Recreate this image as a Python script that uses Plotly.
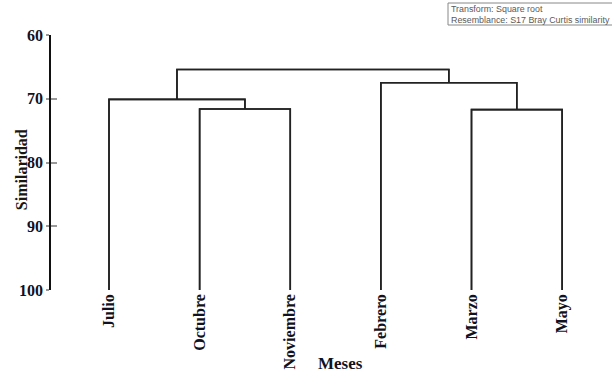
import plotly.graph_objects as go

# Leaves of the dendrogram, in display order
meses = ["Julio", "Octubre", "Noviembre", "Febrero", "Marzo", "Mayo"]

# Agglomeration steps: (left cluster, right cluster, similarity level)
pares_izq = ["Octubre", "Julio", "Marzo", "Febrero", "G2"]
pares_der = ["Noviembre", "G1", "Mayo", "G3", "G4"]
similitud = [71.6, 70.1, 71.7, 67.5, 65.4]
nombres_grupo = ["G1", "G2", "G3", "G4", "G5"]

y_ticks = [60, 70, 80, 90, 100]
base = 100  # leaves hang down to 100 % similarity

nota = ["Transform: Square root", "Resemblance: S17 Bray Curtis similarity"]

FONT = "Liberation Serif"
TXT = "#111122"

# page geometry (px)
W, H = 612, 374
ML, MR, MT, MB = 51, 10, 35, 84
PW, PH = W - ML - MR, H - MT - MB


def px_x(p):
    return (p - ML) / PW


def px_y(p):
    return (H - MB - p) / PH


# position and height of every node
pos = {m: float(i) for i, m in enumerate(meses)}
alt = {m: base for m in meses}

xs, ys = [], []
for a, b, s, g in zip(pares_izq, pares_der, similitud, nombres_grupo):
    xa, xb = pos[a], pos[b]
    xs += [xa, xa, xb, xb, None]
    ys += [alt[a], s, s, alt[b], None]
    pos[g] = (xa + xb) / 2
    alt[g] = s

fig = go.Figure()
for eje in ("y", "y2"):
    fig.add_trace(go.Scatter(
        x=xs, y=ys, mode="lines", yaxis=eje,
        line=dict(color="#222222", width=1.6),
        hoverinfo="skip", showlegend=False,
    ))

fig.update_layout(
    width=W, height=H,
    margin=dict(l=ML, r=MR, t=MT, b=MB),
    plot_bgcolor="white", paper_bgcolor="white",
    xaxis=dict(
        range=[-0.64, 5.44], automargin=False,
        tickvals=list(range(len(meses))), ticktext=meses,
        tickangle=-90, ticks="", showgrid=False, zeroline=False,
        showline=False,
        tickfont=dict(family=FONT, size=16, color=TXT, weight="bold"),
    ),
    yaxis=dict(
        range=[100, 60], tickvals=y_ticks, automargin=False,
        ticks="outside", ticklen=3, tickwidth=1.5, tickcolor="#999999",
        showline=True, linecolor="#111111", linewidth=1.6,
        showgrid=False, zeroline=False,
        tickfont=dict(family=FONT, size=16, color=TXT, weight="bold"),
    ),
    # second copy of the axis carries the inner half of the crossing ticks
    yaxis2=dict(
        range=[100, 60], tickvals=y_ticks, overlaying="y", side="left",
        anchor="x", automargin=False,
        ticks="inside", ticklen=6, tickwidth=1.5, tickcolor="#999999",
        showticklabels=False, showline=False, showgrid=False,
        zeroline=False,
    ),
    shapes=[
        dict(type="rect", xref="paper", yref="paper",
             x0=px_x(448), x1=px_x(625), y0=px_y(25), y1=px_y(3),
             line=dict(color="#888888", width=1), fillcolor="white",
             layer="above"),
    ],
    annotations=[
        dict(text="Meses", xref="x", x=2.55, yref="paper", y=0,
             yshift=-73, showarrow=False, yanchor="middle",
             font=dict(family=FONT, size=17, color=TXT, weight="bold")),
        dict(text="Similaridad", xref="paper", x=0, xshift=-30,
             yref="paper", y=0.47, showarrow=False, textangle=-90,
             xanchor="center", yanchor="middle",
             font=dict(family=FONT, size=16, color="#1c1612", weight="bold")),
    ] + [
        dict(text=t, xref="paper", x=px_x(449), xanchor="left",
             yref="paper", y=px_y(yc), yanchor="middle",
             showarrow=False, align="left",
             font=dict(family="Liberation Sans", size=8.9, color="#5a5a5a"))
        for t, yc in zip(nota, [9, 19.5])
    ],
)

fig.write_html("out.html")
